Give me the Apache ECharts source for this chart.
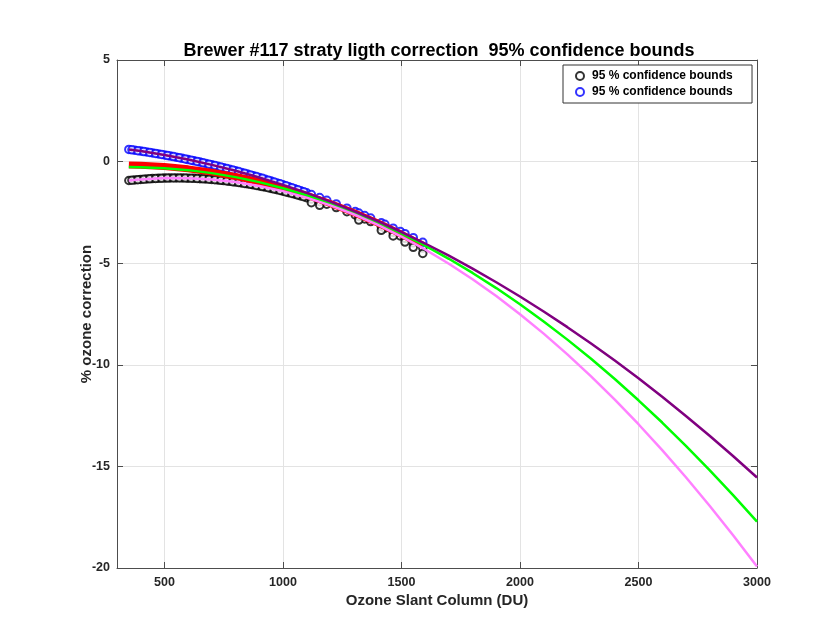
<!DOCTYPE html>
<html>
<head>
<meta charset="utf-8">
<script src="https://cdn.jsdelivr.net/npm/echarts@6/dist/echarts.min.js"></script>
<style>
  html, body { margin: 0; padding: 0; background: #ffffff; }
  #chart { width: 829px; height: 631px; }
</style>
</head>
<body>
<div id="chart"></div>
<script>
// Correction curves sampled along the ozone slant column (DU)
const curveX = [350, 400, 500, 600, 700, 800, 900, 1000, 1100, 1200, 1300, 1400, 1500, 1600,
  1700, 1800, 1900, 2000, 2100, 2200, 2300, 2400, 2500, 2600, 2700, 2800, 2900, 3000];
const upperBound = [0.600, 0.517, 0.326, 0.100, -0.160, -0.453, -0.781, -1.143, -1.539, -1.969,
  -2.434, -2.932, -3.465, -4.031, -4.632, -5.267, -5.936, -6.639, -7.376, -8.148, -8.953,
  -9.793, -10.667, -11.575, -12.516, -13.492, -14.503, -15.547];
const fitCurve = [-0.270, -0.275, -0.323, -0.420, -0.567, -0.764, -1.011, -1.308, -1.655, -2.051,
  -2.498, -2.994, -3.541, -4.137, -4.783, -5.479, -6.224, -7.020, -7.866, -8.761, -9.706,
  -10.701, -11.747, -12.841, -13.986, -15.181, -16.426, -17.720];
const lowerBound = [-0.930, -0.875, -0.813, -0.814, -0.878, -1.007, -1.198, -1.454, -1.773, -2.156,
  -2.603, -3.113, -3.687, -4.324, -5.025, -5.790, -6.618, -7.510, -8.466, -9.485, -10.568,
  -11.714, -12.925, -14.198, -15.536, -16.937, -18.402, -19.930];

// Mean correction over the observed range
const meanX = [350, 400, 500, 600, 700, 800, 900, 1000, 1100, 1200, 1300, 1400, 1500, 1590];
const meanLine = [-0.165, -0.179, -0.244, -0.357, -0.519, -0.730, -0.990, -1.299, -1.656, -2.063,
  -2.519, -3.023, -3.576, -4.115];

// Observed slant columns with the bounds at each one
const obsX = [350, 375, 400, 425, 450, 475, 500, 525, 550, 575, 600, 625, 650, 675, 700, 725,
  750, 775, 800, 825, 850, 875, 900, 925, 950, 975, 1000, 1025, 1050, 1075, 1100,
  1120, 1155, 1185, 1225, 1270, 1305, 1320, 1345, 1370, 1415, 1430, 1465, 1495, 1515, 1550, 1590];
const obsUpper = [0.600, 0.559, 0.517, 0.472, 0.425, 0.377, 0.326, 0.272, 0.217, 0.160, 0.100,
  0.038, -0.025, -0.091, -0.160, -0.230, -0.302, -0.377, -0.453, -0.532, -0.613, -0.696, -0.781,
  -0.868, -0.958, -1.049, -1.143, -1.238, -1.337, -1.437, -1.539,
  -1.622, -1.771, -1.903, -2.082, -2.291, -2.458, -2.530, -2.654, -2.779, -3.010, -3.088,
  -3.274, -3.437, -3.547, -3.744, -3.973];
const obsLower = [-0.930, -0.901, -0.875, -0.854, -0.836, -0.822, -0.813, -0.807, -0.805, -0.807,
  -0.814, -0.824, -0.838, -0.856, -0.878, -0.904, -0.934, -0.968, -1.007, -1.048, -1.095,
  -1.144, -1.198, -1.256, -1.318, -1.384, -1.454, -1.528, -1.606, -1.687, -1.773,
  -1.845, -1.976, -2.095, -2.262, -2.462, -2.627, -2.700, -2.824, -2.953, -3.195, -3.278,
  -3.478, -3.656, -3.778, -3.997, -4.257];
// Further observations in the densely sampled range
const obsX2 = [363, 388, 413, 438, 463, 488, 513, 538, 563, 588, 613, 638, 663, 688, 713, 738,
  763, 788, 813, 838, 863, 888, 913, 938, 963, 988, 1013, 1038, 1063, 1088];
const obsUpper2 = [0.580, 0.538, 0.495, 0.449, 0.401, 0.352, 0.299, 0.245, 0.189, 0.130, 0.069,
  0.007, -0.058, -0.126, -0.195, -0.266, -0.340, -0.415, -0.493, -0.573, -0.655, -0.739, -0.825,
  -0.913, -1.004, -1.096, -1.191, -1.288, -1.387, -1.488];
const obsLower2 = [-0.916, -0.888, -0.865, -0.845, -0.829, -0.818, -0.810, -0.806, -0.806, -0.811,
  -0.819, -0.831, -0.847, -0.867, -0.891, -0.919, -0.951, -0.988, -1.028, -1.072, -1.120, -1.171,
  -1.227, -1.287, -1.351, -1.419, -1.491, -1.567, -1.647, -1.730];
// Repeated observations with a lower bound further down
const repeatX = [1120, 1155, 1320, 1415, 1465, 1515, 1550, 1590];
const repeatLower = [-2.02, -2.15, -2.88, -3.38, -3.66, -3.96, -4.22, -4.52];

const xTicks = [500, 1000, 1500, 2000, 2500, 3000];
const yRange = [-20, 5];

const lowerName = '95 % confidence bounds';
const upperName = '95 % confidence bounds\u00a0';

const pairs = (xs, ys) => xs.map((x, i) => [x, ys[i]]);

const FONT = '"Liberation Sans", Arial, sans-serif';
const AXIS_COLOR = '#4d4d4d';
const GRID_COLOR = '#e3e3e3';

const chart = echarts.init(document.getElementById('chart'), null, { renderer: 'canvas' });

const xAxisBase = {
  type: 'value', min: 300, max: 3000,
  axisLine: { show: true, onZero: false, lineStyle: { color: AXIS_COLOR, width: 1 } },
  axisTick: { show: true, inside: true, length: 6, customValues: xTicks,
    lineStyle: { color: AXIS_COLOR, width: 1 } },
};
const yAxisBase = {
  type: 'value', min: yRange[0], max: yRange[1], interval: 5,
  axisLine: { show: true, onZero: false, lineStyle: { color: AXIS_COLOR, width: 1 } },
  axisTick: { show: true, inside: true, length: 6, lineStyle: { color: AXIS_COLOR, width: 1 } },
};

chart.setOption({
  animation: false,
  backgroundColor: '#ffffff',
  title: {
    text: 'Brewer #117 straty ligth correction  95% confidence bounds',
    left: 434, top: 37, textAlign: 'center',
    textStyle: { fontFamily: FONT, fontSize: 18, fontWeight: 'bold', color: '#000000' }
  },
  legend: {
    data: [lowerName, upperName],
    orient: 'vertical',
    left: 563, top: 65,
    backgroundColor: '#ffffff',
    borderColor: '#333333', borderWidth: 1, borderRadius: 0,
    padding: [5, 16, 5, 12],
    itemGap: 4, itemWidth: 14, itemHeight: 8,
    textStyle: { fontFamily: FONT, fontSize: 12, fontWeight: 'bold', color: '#000000' }
  },
  grid: { left: 117, right: 72, top: 60, bottom: 63, containLabel: false },
  xAxis: [
    Object.assign({}, xAxisBase, {
      position: 'bottom',
      name: 'Ozone Slant Column (DU)', nameLocation: 'middle', nameGap: 25,
      nameMoveOverlap: false,
      nameTextStyle: { fontFamily: FONT, fontSize: 15, fontWeight: 'bold', color: '#262626' },
      axisLabel: { show: true, customValues: xTicks, margin: 8,
        formatter: (v) => String(v),
        fontFamily: FONT, fontSize: 12.5, fontWeight: 'bold', color: '#262626' },
      splitLine: { show: true, lineStyle: { color: GRID_COLOR, width: 1 } }
    }),
    Object.assign({}, xAxisBase, {
      position: 'top',
      axisLabel: { show: false },
      splitLine: { show: false }
    })
  ],
  yAxis: [
    Object.assign({}, yAxisBase, {
      position: 'left',
      name: '% ozone correction', nameLocation: 'middle', nameGap: 23,
      nameMoveOverlap: false,
      nameTextStyle: { fontFamily: FONT, fontSize: 15, fontWeight: 'bold', color: '#262626' },
      axisLabel: { show: true, margin: 7,
        fontFamily: FONT, fontSize: 12.5, fontWeight: 'bold', color: '#262626' },
      splitLine: { show: true, lineStyle: { color: GRID_COLOR, width: 1 } }
    }),
    Object.assign({}, yAxisBase, {
      position: 'right',
      axisLabel: { show: false },
      splitLine: { show: false }
    })
  ],
  series: [
    {
      name: lowerName, type: 'scatter',
      symbol: 'emptyCircle', symbolSize: 7.5,
      itemStyle: { color: '#000000', borderColor: '#000000', borderWidth: 2.4 },
      data: pairs(obsX, obsLower).concat(pairs(obsX2, obsLower2), pairs(repeatX, repeatLower))
    },
    {
      name: upperName, type: 'scatter',
      symbol: 'emptyCircle', symbolSize: 7.5,
      itemStyle: { color: '#0000ff', borderColor: '#0000ff', borderWidth: 2.4 },
      data: pairs(obsX, obsUpper).concat(pairs(obsX2, obsUpper2))
    },
    {
      name: 'mean', type: 'line', showSymbol: false, symbol: 'none',
      lineStyle: { color: '#ff0000', width: 7 },
      data: pairs(meanX, meanLine)
    },
    {
      name: 'fit', type: 'line', showSymbol: false, symbol: 'none',
      lineStyle: { color: '#00ff00', width: 2.5 },
      data: pairs(curveX, fitCurve)
    },
    {
      name: 'upper', type: 'line', showSymbol: false, symbol: 'none',
      lineStyle: { color: '#800080', width: 2.5 },
      data: pairs(curveX, upperBound)
    },
    {
      name: 'lower', type: 'line', showSymbol: false, symbol: 'none',
      lineStyle: { color: '#ff80ff', width: 2.5 },
      data: pairs(curveX, lowerBound)
    }
  ]
});
</script>
</body>
</html>
